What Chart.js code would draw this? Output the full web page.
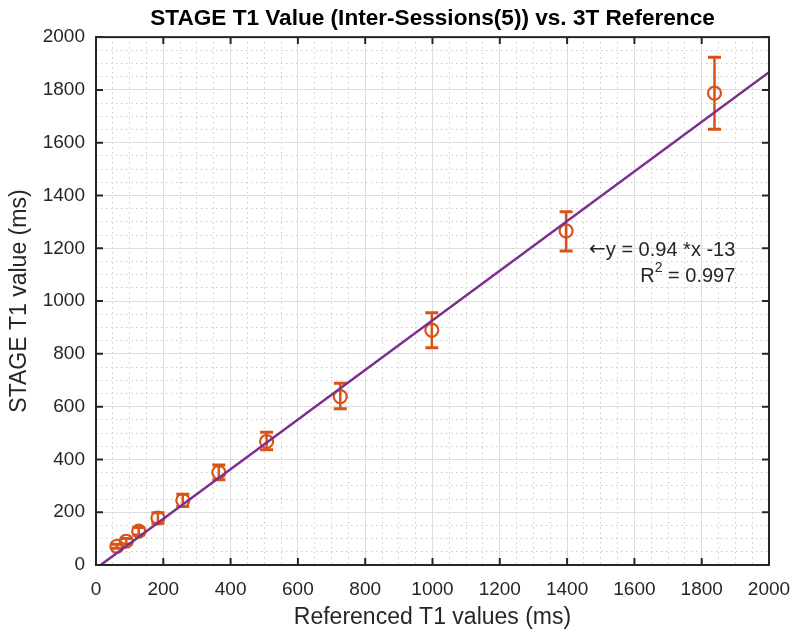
<!DOCTYPE html>
<html>
<head>
<meta charset="utf-8">
<script src="https://cdn.jsdelivr.net/npm/chart.js@4.4.1/dist/chart.umd.min.js"></script>
<style>
    body { margin: 0; background: #fff; }
    .wrap { width: 794px; height: 631px; }
</style>
</head>
<body>
<div class="wrap"><canvas id="myChart"></canvas></div>
<script>
// данные
const refT1 = [62, 90, 127, 184, 258, 365, 507, 726, 998, 1397, 1838];
const stageT1 = [71, 90, 128, 178, 245, 351, 468, 638, 890, 1266, 1788];
const errLow = [63, 80, 114, 158, 222, 323, 437, 592, 823, 1190, 1651];
const errHigh = [79, 100, 142, 198, 268, 379, 503, 689, 956, 1338, 1924];
const fitX = [0, 2000];
const fitY = [-13, 1867];
const majorTicks = [0, 200, 400, 600, 800, 1000, 1200, 1400, 1600, 1800, 2000];

const FONT = "'Liberation Sans', Arial, sans-serif";
const ORANGE = '#D95319';
const PURPLE = '#7E2F8E';
const TEXT = '#262626';

const isMajor = v => v % 200 === 0;

// планки погрешностей
const errorBars = {
    id: 'errorBars',
    beforeDatasetsDraw(chart) {
        const ctx = chart.ctx;
        const xs = chart.scales.x, ys = chart.scales.y;
        ctx.save();
        ctx.strokeStyle = ORANGE;
        ctx.lineWidth = 2.5;
        for (let i = 0; i < refT1.length; i++) {
            const px = xs.getPixelForValue(refT1[i]);
            const top = ys.getPixelForValue(errHigh[i]);
            const bot = ys.getPixelForValue(errLow[i]);
            ctx.beginPath();
            ctx.moveTo(px, top); ctx.lineTo(px, bot);
            ctx.stroke();
            ctx.lineWidth = 3;
            ctx.beginPath();
            ctx.moveTo(px - 6.5, top); ctx.lineTo(px + 6.5, top);
            ctx.moveTo(px - 6.5, bot); ctx.lineTo(px + 6.5, bot);
            ctx.stroke();
            ctx.lineWidth = 2.5;
        }
        ctx.restore();
    }
};

// рамка и засечки внутрь
const boxFrame = {
    id: 'boxFrame',
    afterDraw(chart) {
        const ctx = chart.ctx;
        const a = chart.chartArea;
        const xs = chart.scales.x, ys = chart.scales.y;
        const len = 7;
        ctx.save();
        ctx.strokeStyle = TEXT;
        ctx.lineWidth = 2;
        ctx.strokeRect(a.left, a.top, a.right - a.left, a.bottom - a.top);
        ctx.beginPath();
        majorTicks.forEach(v => {
            const px = xs.getPixelForValue(v);
            ctx.moveTo(px, a.bottom); ctx.lineTo(px, a.bottom - len);
            ctx.moveTo(px, a.top); ctx.lineTo(px, a.top + len);
            const py = ys.getPixelForValue(v);
            ctx.moveTo(a.left, py); ctx.lineTo(a.left + len, py);
            ctx.moveTo(a.right, py); ctx.lineTo(a.right - len, py);
        });
        ctx.stroke();
        ctx.restore();
    }
};

// подпись уравнения
const fitLabel = {
    id: 'fitLabel',
    afterDatasetsDraw(chart) {
        const ctx = chart.ctx;
        const xs = chart.scales.x, ys = chart.scales.y;
        const xr = xs.getPixelForValue(1900);
        const y1 = ys.getPixelForValue(1193);
        const y2 = ys.getPixelForValue(1092);
        ctx.save();
        ctx.fillStyle = TEXT;
        ctx.textBaseline = 'middle';
        ctx.textAlign = 'right';
        ctx.font = '20px ' + FONT;
        const eq = 'y = 0.94 *x -13';
        const wEq = ctx.measureText(eq).width;
        ctx.fillText(eq, xr, y1);
        ctx.font = "20px 'DejaVu Sans', sans-serif";
        ctx.fillText('\u2190', xr - wEq, y1);
        ctx.font = '20px ' + FONT;
        const rest = ' = 0.997';
        const wRest = ctx.measureText(rest).width;
        ctx.fillText(rest, xr, y2);
        ctx.font = '14px ' + FONT;
        const wSup = ctx.measureText('2').width;
        ctx.fillText('2', xr - wRest, y2 - 9);
        ctx.font = '20px ' + FONT;
        ctx.fillText('R', xr - wRest - wSup, y2);
        ctx.restore();
    }
};

const noPad = s => { s.paddingLeft = 0; s.paddingRight = 0; s.paddingTop = 0; s.paddingBottom = 0; };

const ctxMain = document.getElementById('myChart').getContext('2d');

const myChart = new Chart(ctxMain, {
    type: 'scatter',
    data: {
        datasets: [{
            type: 'line',
            data: fitX.map((x, i) => ({ x: x, y: fitY[i] })),
            borderColor: PURPLE,
            borderWidth: 2.5,
            pointRadius: 0,
            fill: false
        }, {
            data: refT1.map((x, i) => ({ x: x, y: stageT1[i] })),
            pointStyle: 'circle',
            pointRadius: 6.5,
            borderColor: ORANGE,
            backgroundColor: 'rgba(0,0,0,0)',
            borderWidth: 2.2
        }]
    },
    options: {
        responsive: true,
        maintainAspectRatio: false,
        animation: false,
        layout: { padding: { left: 0, right: 25, top: 0, bottom: 0 } },
        plugins: {
            legend: { display: false },
            tooltip: { enabled: false },
            title: {
                display: true,
                fullSize: false,
                text: 'STAGE T1 Value (Inter-Sessions(5)) vs. 3T Reference',
                color: '#000',
                font: { family: FONT, size: 22.6, weight: 'bold' },
                padding: { top: 5, bottom: 5 }
            }
        },
        scales: {
            x: {
                type: 'linear',
                min: 0,
                max: 2000,
                afterFit: s => { s.height = 66; noPad(s); },
                ticks: {
                    stepSize: 50,
                    autoSkip: false,
                    maxRotation: 0,
                    padding: 13,
                    color: TEXT,
                    font: { family: FONT, size: 19 },
                    callback: v => isMajor(v) ? String(v) : ''
                },
                title: {
                    display: true,
                    text: 'Referenced T1 values (ms)',
                    color: TEXT,
                    font: { family: FONT, size: 23 },
                    padding: { top: 0, bottom: 0 }
                },
                grid: {
                    drawTicks: false,
                    lineWidth: 1,
                    color: c => isMajor(c.tick.value) ? '#dedede' : '#cccccc'
                },
                border: {
                    display: false,
                    dash: c => (c.tick && !isMajor(c.tick.value)) ? [1.5, 3.5] : []
                }
            },
            y: {
                type: 'linear',
                min: 0,
                max: 2000,
                afterFit: s => { s.width = 96; noPad(s); },
                ticks: {
                    stepSize: 50,
                    autoSkip: false,
                    padding: 11,
                    color: TEXT,
                    font: { family: FONT, size: 19 },
                    callback: v => isMajor(v) ? String(v) : ''
                },
                title: {
                    display: true,
                    text: 'STAGE T1 value (ms)',
                    color: TEXT,
                    font: { family: FONT, size: 23 },
                    padding: { top: 6, bottom: 0 }
                },
                grid: {
                    drawTicks: false,
                    lineWidth: 1,
                    color: c => isMajor(c.tick.value) ? '#dedede' : '#cccccc'
                },
                border: {
                    display: false,
                    dash: c => (c.tick && !isMajor(c.tick.value)) ? [1.5, 3.5] : []
                }
            }
        }
    },
    plugins: [errorBars, boxFrame, fitLabel]
});
</script>
</body>
</html>
